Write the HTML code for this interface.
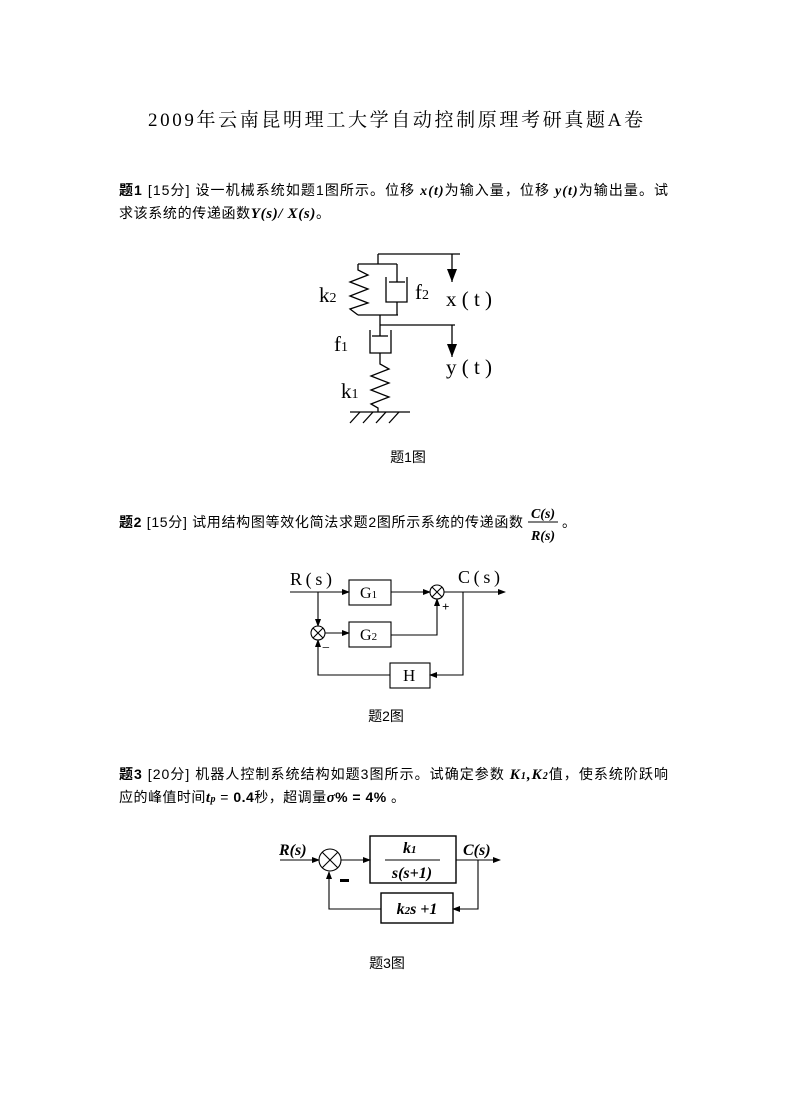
<!DOCTYPE html>
<html><head><meta charset="utf-8"><style>
html,body{margin:0;padding:0;background:#fff;}
svg{display:block;}
.t{font-family:"Liberation Sans","Noto Sans CJK SC",sans-serif;font-size:14px;fill:#000;}
.b{font-family:"Liberation Serif",serif;font-weight:bold;font-style:italic;}
.s{font-family:"Liberation Serif","Noto Serif CJK SC",serif;fill:#000;}
</style></head><body>
<svg width="790" height="1119" viewBox="0 0 790 1119" xmlns="http://www.w3.org/2000/svg">
<defs><marker id="a" markerWidth="8" markerHeight="8" refX="7" refY="4" orient="auto" markerUnits="userSpaceOnUse"><path d="M0,1 L8,4 L0,7z" fill="#000"/></marker>
<marker id="A" markerWidth="12" markerHeight="14" refX="6" refY="13" orient="0" markerUnits="userSpaceOnUse"><path d="M1,0 L11,0 L6,13z" fill="#000"/></marker></defs>
<text x="148" y="126" class="s" font-size="19" textLength="495" lengthAdjust="spacing">2009年云南昆明理工大学自动控制原理考研真题A卷</text>

<text x="119" y="195" class="t" textLength="549" lengthAdjust="spacing"><tspan font-weight="bold">题1</tspan>  [15分]  设一机械系统如题1图所示。位移 <tspan class="b">x(t)</tspan>为输入量，位移 <tspan class="b">y(t)</tspan>为输出量。试</text>
<text x="119" y="218" class="t" textLength="211" lengthAdjust="spacing">求该系统的传递函数<tspan class="b" font-size="15">Y(s)/ X(s)</tspan>。</text>

<g stroke="#000" stroke-width="1.3" fill="none">
<polyline points="378,254 460,254"/><line x1="378" y1="254" x2="378" y2="264"/>
<polyline points="358,264 397,264"/>
<polyline points="358,264 358,270 368,275 350,282 368,289 350,296 368,303 350,309 358,315"/>
<line x1="358" y1="315" x2="398" y2="315"/>
<line x1="397" y1="264" x2="397" y2="282"/><line x1="389" y1="282" x2="405" y2="282"/>
<polyline points="386,277 386,302 407,302 407,277"/><line x1="397" y1="302" x2="397" y2="315"/>
<line x1="452" y1="254" x2="452" y2="282" marker-end="url(#A)"/>
<line x1="380" y1="315" x2="380" y2="336"/><line x1="380" y1="325" x2="455" y2="325"/>
<line x1="452" y1="325" x2="452" y2="357" marker-end="url(#A)"/>
<line x1="372" y1="336" x2="388" y2="336"/>
<polyline points="370,330 370,353 391,353 391,330"/>
<polyline points="380,353 380,364 389,369 371,376 389,383 371,390 389,397 371,404 378,408 378,412"/>
<line x1="350" y1="412" x2="410" y2="412"/>
<line x1="360" y1="412" x2="350" y2="423"/><line x1="373" y1="412" x2="363" y2="423"/><line x1="386" y1="412" x2="376" y2="423"/><line x1="399" y1="412" x2="389" y2="423"/>
</g>
<g class="s" font-size="21"><text x="319" y="302">k<tspan font-size="14">2</tspan></text><text x="415" y="299">f<tspan font-size="14">2</tspan></text><text x="446" y="306" textLength="46" lengthAdjust="spacing">x(t)</text>
<text x="334" y="351">f<tspan font-size="14">1</tspan></text><text x="446" y="374" textLength="46" lengthAdjust="spacing">y(t)</text><text x="341" y="398">k<tspan font-size="14">1</tspan></text></g>
<text x="408" y="462" text-anchor="middle" class="t">题1图</text>

<text x="119" y="527" class="t" textLength="404" lengthAdjust="spacing"><tspan font-weight="bold">题2</tspan> [15分] 试用结构图等效化简法求题2图所示系统的传递函数</text>
<text x="543" y="518" text-anchor="middle" class="b" font-size="14">C(s)</text>
<line x1="528" y1="522" x2="558" y2="522" stroke="#000"/>
<text x="543" y="540" text-anchor="middle" class="b" font-size="14">R(s)</text>
<text x="562" y="527" class="t">。</text>

<g stroke="#000" stroke-width="1.1" fill="none">
<line x1="290" y1="592" x2="349" y2="592" marker-end="url(#a)"/>
<rect x="349" y="580" width="42" height="25"/>
<line x1="391" y1="592" x2="430" y2="592" marker-end="url(#a)"/>
<circle cx="437" cy="592" r="7"/><path d="M432,587 L442,597 M442,587 L432,597"/>
<line x1="444" y1="592" x2="505" y2="592" marker-end="url(#a)"/>
<line x1="318" y1="592" x2="318" y2="626" marker-end="url(#a)"/>
<circle cx="318" cy="633" r="7"/><path d="M313,628 L323,638 M323,628 L313,638"/>
<line x1="325" y1="633" x2="349" y2="633" marker-end="url(#a)"/>
<rect x="349" y="622" width="42" height="25"/>
<polyline points="391,635 437,635 437,599" marker-end="url(#a)"/>
<polyline points="463,592 463,675 430,675" marker-end="url(#a)"/>
<rect x="390" y="663" width="40" height="25"/>
<polyline points="390,675 318,675 318,640" marker-end="url(#a)"/>
</g>
<g class="s"><text x="290" y="585" font-size="18" textLength="42" lengthAdjust="spacing">R(s)</text><text x="458" y="583" font-size="18" textLength="42" lengthAdjust="spacing">C(s)</text>
<text x="360" y="598" font-size="16">G<tspan font-size="11">1</tspan></text><text x="360" y="640" font-size="16">G<tspan font-size="11">2</tspan></text>
<text x="403" y="681" font-size="17">H</text><text x="442" y="611" font-size="13" font-weight="bold">+</text><text x="322" y="652" font-size="14">−</text></g>
<text x="386" y="721" text-anchor="middle" class="t">题2图</text>

<text x="119" y="779" class="t" textLength="549" lengthAdjust="spacing"><tspan font-weight="bold">题3</tspan>  [20分]  机器人控制系统结构如题3图所示。试确定参数 <tspan class="b" font-size="15">K<tspan font-size="10">1</tspan>,K<tspan font-size="10">2</tspan></tspan>值，使系统阶跃响</text>
<text x="119" y="802" class="t" textLength="286" lengthAdjust="spacing">应的峰值时间<tspan class="b" font-size="15">t<tspan font-size="10">p</tspan></tspan> = <tspan font-weight="bold">0.4</tspan>秒，超调量<tspan class="b" font-size="15">σ</tspan><tspan font-weight="bold">% = 4%</tspan> 。</text>

<g stroke="#000" stroke-width="1.1" fill="none">
<line x1="280" y1="860" x2="319" y2="860" marker-end="url(#a)"/>
<circle cx="330" cy="860" r="11"/><path d="M322,852 L338,868 M338,852 L322,868"/>
<line x1="341" y1="860" x2="370" y2="860" marker-end="url(#a)"/>
<rect x="370" y="836" width="86" height="47" stroke-width="1.4"/>
<line x1="385" y1="860" x2="440" y2="860"/>
<line x1="456" y1="860" x2="500" y2="860" marker-end="url(#a)"/>
<polyline points="478,860 478,909 453,909" marker-end="url(#a)"/>
<rect x="381" y="893" width="72" height="30" stroke-width="1.4"/>
<polyline points="381,909 329,909 329,872" marker-end="url(#a)"/>
</g>
<g class="b" font-size="16"><text x="279" y="855">R(s)</text><text x="463" y="855">C(s)</text>
<text x="403" y="853">k<tspan font-size="11">1</tspan></text><text x="412" y="878" text-anchor="middle">s(s+1)</text>
<text x="417" y="914" text-anchor="middle">k<tspan font-size="11">2</tspan>s +1</text></g>
<rect x="340" y="879" width="9" height="3" fill="#000"/>
<text x="387" y="968" text-anchor="middle" class="t">题3图</text>
</svg>
</body></html>
